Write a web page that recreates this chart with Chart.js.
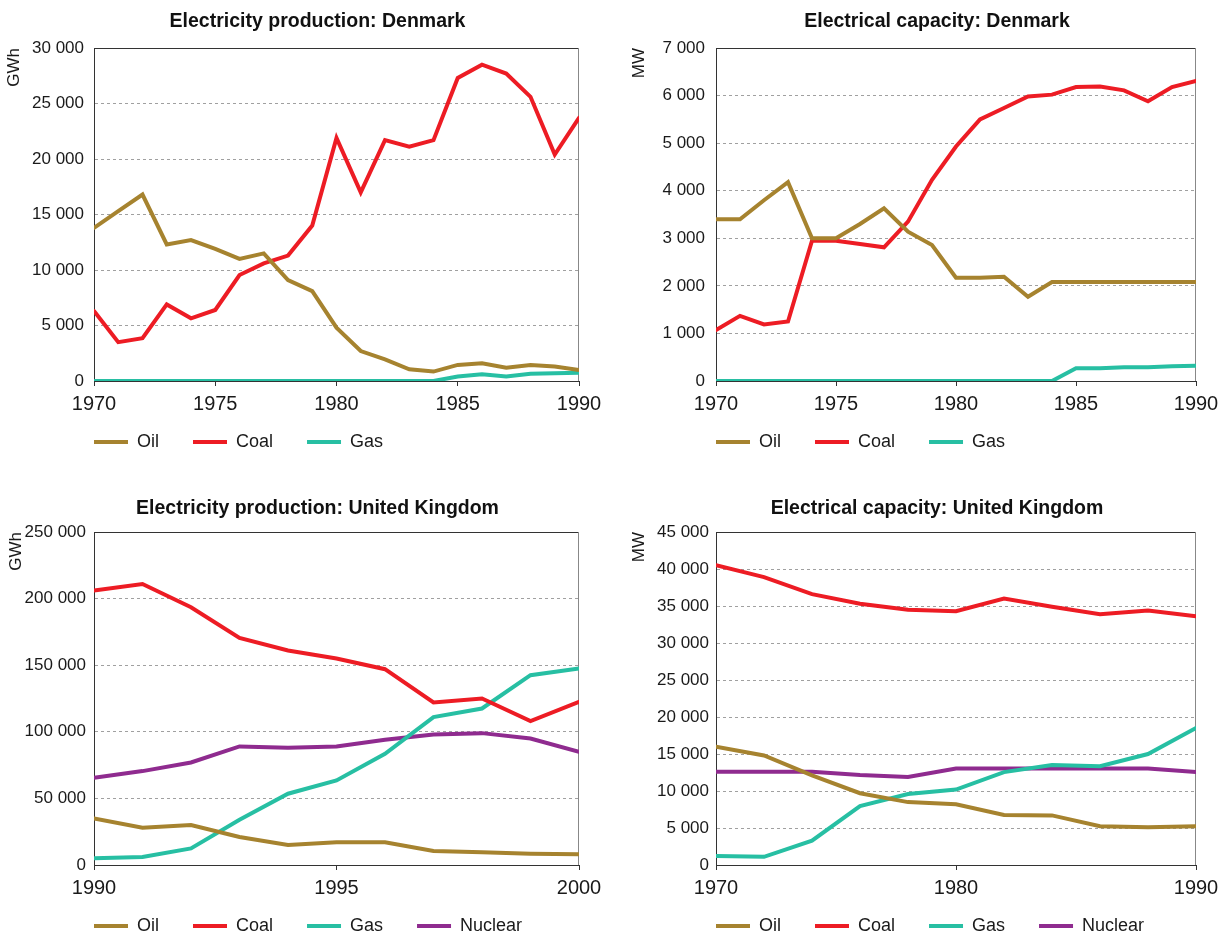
<!DOCTYPE html>
<html>
<head>
<meta charset="utf-8">
<title>Electricity production and capacity: Denmark and United Kingdom</title>
<script src="https://cdn.jsdelivr.net/npm/chart.js@4.4.1/dist/chart.umd.min.js"></script>
<style>
	html, body { margin: 0; padding: 0; background: #fff; overflow: hidden; }
	canvas { position: absolute; }
</style>
</head>
<body>
<canvas id="dk_prod" width="609" height="473" style="left:0px;top:0px"></canvas>
<canvas id="dk_cap" width="601" height="473" style="left:625px;top:0px"></canvas>
<canvas id="uk_prod" width="609" height="473" style="left:0px;top:484px"></canvas>
<canvas id="uk_cap" width="601" height="473" style="left:625px;top:484px"></canvas>
<script>
'use strict';

/* data */
var dkYears = [1970,1971,1972,1973,1974,1975,1976,1977,1978,1979,1980,1981,1982,1983,1984,1985,1986,1987,1988,1989,1990];

// Denmark, electricity production (GWh)
var dkProdOil  = [13800,15300,16800,12300,12700,11900,11000,11500,9100,8100,4800,2700,1950,1050,850,1450,1600,1200,1450,1300,1000];
var dkProdCoal = [6300,3500,3850,6900,5650,6400,9550,10600,11300,14000,21900,17000,21700,21100,21700,27300,28500,27700,25600,20400,23700];
var dkProdGas  = [0,0,0,0,0,0,0,0,0,0,0,0,0,0,0,400,600,400,650,700,750];

// Denmark, electrical capacity (MW)
var dkCapOil  = [3400,3400,3800,4180,3000,3000,3300,3630,3140,2860,2170,2170,2190,1770,2080,2080,2080,2080,2080,2080,2080];
var dkCapCoal = [1070,1370,1190,1250,2950,2950,2880,2810,3350,4230,4930,5500,5740,5980,6020,6180,6190,6110,5880,6180,6310];
var dkCapGas  = [0,0,0,0,0,0,0,0,0,0,0,0,0,0,0,270,270,290,290,310,320];

// United Kingdom, electricity production (GWh)
var ukProdYears   = [1990,1991,1992,1993,1994,1995,1996,1997,1998,1999,2000];
var ukProdOil     = [35000,28000,30000,21000,15000,17000,17000,10500,9500,8500,8000];
var ukProdCoal    = [206000,211000,193500,170500,161000,155000,147000,122000,125000,108000,122500];
var ukProdGas     = [5000,6000,12500,34000,53500,63500,83500,111000,117500,142500,147500];
var ukProdNuclear = [65500,70500,77000,89000,88000,89000,94000,98000,99000,95000,85000];

// United Kingdom, electrical capacity (MW), every second year
var ukCapYears   = [1970,1972,1974,1976,1978,1980,1982,1984,1986,1988,1990];
var ukCapOil     = [16000,14800,12100,9700,8500,8200,6750,6700,5250,5100,5250];
var ukCapCoal    = [40500,38900,36600,35300,34500,34300,36000,34900,33900,34400,33600];
var ukCapGas     = [1200,1100,3300,7950,9600,10200,12550,13500,13350,15000,18500];
var ukCapNuclear = [12600,12600,12600,12150,11900,13050,13050,13050,13050,13050,12550];

/* look */
var OIL = '#a6832f', COAL = '#ed1c24', GAS = '#27bfa3', NUCLEAR = '#8f2b8f';
var TEXT = '#1a1a1a';
var LEGEND_PAD = 34;

Chart.defaults.font.family = "'Liberation Sans', Arial, sans-serif";
Chart.defaults.color = TEXT;

// "30000" -> "30 000"
var spaced = function(v){
	return String(v).replace(/\B(?=(\d{3})+(?!\d))/g, ' ');
};

// puts legend and title where the figure has them and draws the top/right frame
var framePlugin = {
	id: 'frame',
	afterLayout: function(chart){
		var area = chart.chartArea;
		var lg = chart.legend;
		lg.left = area.left - LEGEND_PAD;
		lg.top = area.bottom + 18;

		var t = chart.titleBlock;
		var half = (t.right - t.left) / 2;
		var mid = (area.left + area.right) / 2 - 19;
		t.left = mid - half;
		t.right = mid + half;
	},
	beforeDatasetsDraw: function(chart){
		var a = chart.chartArea, c = chart.ctx;
		c.save();
		c.lineWidth = 1;
		c.strokeStyle = '#333';
		c.beginPath();
		c.moveTo(a.left, a.top + 0.5);
		c.lineTo(a.right, a.top + 0.5);
		c.stroke();
		c.strokeStyle = '#888';
		c.beginPath();
		c.moveTo(a.right - 0.5, a.top);
		c.lineTo(a.right - 0.5, a.bottom);
		c.stroke();
		c.restore();
	}
};

var line_chart = function(id, cfg){
	var ctx = document.getElementById(id).getContext('2d');

	var datasets = cfg.series.map(function(s){
		return {
			label: s[0],
			data: s[1],
			borderColor: s[2],
			backgroundColor: s[2],
			borderWidth: 4,
			borderCapStyle: 'round',
			pointRadius: 0,
			tension: 0
		};
	});

	var ymax = cfg.ymax;

	return new Chart(ctx, {
		type: 'line',
		data: { labels: cfg.years, datasets: datasets },
		options: {
			responsive: false,
			animation: false,
			events: [],
			layout: { padding: { left: 0, right: 30, top: 0, bottom: 0 } },
			plugins: {
				title: {
					display: true,
					text: cfg.title,
					color: '#111',
					font: { size: 19.5, weight: 'bold' },
					padding: { top: cfg.titlePad[0], bottom: cfg.titlePad[1] }
				},
				legend: {
					position: 'bottom',
					align: 'start',
					labels: {
						usePointStyle: true,
						pointStyle: 'line',
						pointStyleWidth: 34,
						boxHeight: 4,
						padding: LEGEND_PAD,
						color: TEXT,
						font: { size: 18 }
					}
				},
				tooltip: { enabled: false }
			},
			scales: {
				x: {
					type: 'linear',
					min: cfg.years[0],
					max: cfg.years[cfg.years.length - 1],
					ticks: {
						stepSize: cfg.xstep,
						maxRotation: 0,
						padding: 6,
						color: TEXT,
						font: { size: 20 },
						callback: function(v){ return String(v); }
					},
					grid: { drawOnChartArea: false, tickLength: 5, tickColor: '#333' },
					border: { color: '#333' },
					afterFit: function(s){ s.height = 30; }
				},
				y: {
					min: 0,
					max: ymax,
					ticks: {
						stepSize: cfg.ystep,
						padding: cfg.tickPad,
						color: TEXT,
						font: { size: 17 },
						callback: spaced
					},
					grid: {
						drawTicks: false,
						color: function(c){
							return (c.tick.value === 0 || c.tick.value === ymax) ? 'rgba(0,0,0,0)' : '#a0a0a0';
						}
					},
					border: { color: '#333', dash: [3, 3] },
					title: {
						display: true,
						text: cfg.unit,
						align: 'end',
						color: TEXT,
						font: { size: 17 },
						padding: { top: cfg.unitPad, bottom: 0 }
					},
					afterFit: function(s){ s.width = cfg.axisWidth; }
				}
			}
		},
		plugins: [framePlugin]
	});
};

line_chart('dk_prod', {
	title: 'Electricity production: Denmark', unit: 'GWh',
	years: dkYears, xstep: 5, ymax: 30000, ystep: 5000,
	axisWidth: 94, tickPad: 10, unitPad: 4, titlePad: [10.3, 14.3],
	series: [['Oil', dkProdOil, OIL], ['Coal', dkProdCoal, COAL], ['Gas', dkProdGas, GAS]]
});

line_chart('dk_cap', {
	title: 'Electrical capacity: Denmark', unit: 'MW',
	years: dkYears, xstep: 5, ymax: 7000, ystep: 1000,
	axisWidth: 91, tickPad: 11, unitPad: 4, titlePad: [10.3, 14.3],
	series: [['Oil', dkCapOil, OIL], ['Coal', dkCapCoal, COAL], ['Gas', dkCapGas, GAS]]
});

line_chart('uk_prod', {
	title: 'Electricity production: United Kingdom', unit: 'GWh',
	years: ukProdYears, xstep: 5, ymax: 250000, ystep: 50000,
	axisWidth: 94, tickPad: 8, unitPad: 6, titlePad: [12.8, 11.8],
	series: [['Oil', ukProdOil, OIL], ['Coal', ukProdCoal, COAL], ['Gas', ukProdGas, GAS], ['Nuclear', ukProdNuclear, NUCLEAR]]
});

line_chart('uk_cap', {
	title: 'Electrical capacity: United Kingdom', unit: 'MW',
	years: ukCapYears, xstep: 10, ymax: 45000, ystep: 5000,
	axisWidth: 91, tickPad: 7, unitPad: 4, titlePad: [12.8, 11.8],
	series: [['Oil', ukCapOil, OIL], ['Coal', ukCapCoal, COAL], ['Gas', ukCapGas, GAS], ['Nuclear', ukCapNuclear, NUCLEAR]]
});
</script>
</body>
</html>
